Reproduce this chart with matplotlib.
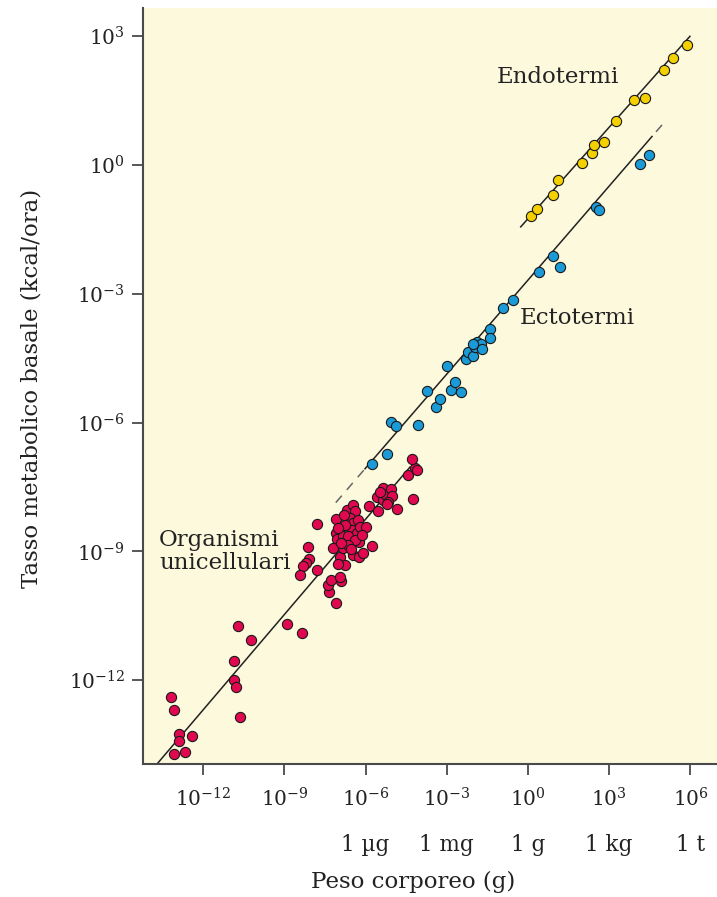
import numpy as np
import matplotlib
matplotlib.use('Agg')
import matplotlib.pyplot as plt

plt.rcParams['font.family'] = 'DejaVu Serif'
plt.rcParams['mathtext.fontset'] = 'dejavuserif'

# log10 of body weight (g) / log10 of basal metabolic rate (kcal/h)
endo_logw = [0.10, 0.34, 0.93, 1.10, 2.01, 2.36, 2.43, 2.81, 3.24, 3.92, 4.33, 5.04, 5.36, 5.87]
endo_logr = [-1.20, -1.03, -0.71, -0.35, 0.05, 0.27, 0.47, 0.53, 1.02, 1.51, 1.57, 2.20, 2.48, 2.79]

ecto_logw = [-5.77, -5.20, -5.05, -4.89, -4.07, -3.74, -3.40, -3.25, -3.00, -2.83,
             -2.69, -2.49, -2.29, -2.21, -2.02, -1.96, -1.87, -1.73, -1.69, -2.04,
             -1.40, -1.40, -0.93, -0.55, 0.42, 0.93, 1.18, 2.51, 2.63, 4.14, 4.47]
ecto_logr = [-6.96, -6.74, -5.98, -6.08, -6.06, -5.26, -5.63, -5.46, -4.69, -5.24,
             -5.05, -5.29, -4.51, -4.35, -4.45, -4.25, -4.12, -4.17, -4.29, -4.17,
             -3.81, -4.04, -3.34, -3.14, -2.49, -2.12, -2.38, -0.97, -1.04, 0.02, 0.23]

uni_logw = [-13.19, -13.07, -12.89, -12.89, -12.42, -13.09, -12.68, -10.72, -10.23, -10.86,
            -10.85, -10.79, -10.64, -8.91, -8.34, -7.11, -7.34, -7.37, -6.92, -7.28,
            -8.12, -8.08, -8.20, -8.30, -8.42, -7.81, -7.78, -7.09, -7.08, -7.04,
            -7.19, -6.94, -6.76, -7.03, -6.94, -6.85, -6.82, -6.68, -6.48, -6.39,
            -6.58, -6.45, -6.27, -6.51, -6.33, -6.21, -5.98, -6.64, -6.23, -6.45,
            -6.23, -6.08, -5.77, -5.86, -5.53, -5.57, -5.35, -5.37, -5.25, -5.07,
            -5.04, -5.16, -4.85, -4.24, -4.42, -4.17, -4.29, -4.09, -6.76, -6.39,
            -6.65, -6.13, -6.80, -7.00, -6.55, -6.90, -5.45, -5.20]
uni_logr = [-12.38, -12.70, -13.24, -13.42, -13.29, -13.71, -13.66, -10.73, -11.07, -11.55,
            -11.99, -12.15, -12.85, -10.68, -10.89, -10.21, -9.95, -9.78, -9.69, -9.66,
            -8.90, -9.17, -9.26, -9.35, -9.55, -9.43, -8.36, -8.24, -8.58, -8.71,
            -8.92, -9.12, -9.31, -9.29, -9.59, -8.92, -8.65, -8.03, -7.92, -8.07,
            -8.23, -8.34, -8.27, -8.50, -8.58, -8.42, -8.44, -8.65, -8.77, -9.08,
            -9.13, -9.03, -8.87, -7.94, -8.05, -7.74, -7.80, -7.53, -7.68, -7.55,
            -7.72, -7.84, -8.02, -7.77, -7.22, -7.06, -6.84, -7.10, -8.38, -8.73,
            -8.85, -8.61, -8.15, -8.45, -8.95, -8.80, -7.62, -7.90]

# regression lines: log rate = intercept + slope * log weight
endo_fit = (-1.25, 0.71)
ecto_fit = (-2.68, 0.73)
uni_fit = (-3.81, 0.74)
endo_range = (-0.27, 5.98)
ecto_range = (-6.02, 4.58)
ecto_dash_lo = (-7.10, -6.02)
ecto_dash_hi = (4.58, 5.10)
uni_range = (-14.0, -4.36)

x_ticks = [-12, -9, -6, -3, 0, 3, 6]
y_ticks = [-12, -9, -6, -3, 0, 3]
unit_pos = [-6, -3, 0, 3, 6]
unit_labels = ['1 µg', '1 mg', '1 g', '1 kg', '1 t']

bg = '#fdf9dd'
red = '#e0094f'
blue = '#1a9ad6'
yellow = '#f4d000'
spine_col = '#4a4a4a'


def fit_line(fit, rng, n=50):
    lw_ = np.linspace(rng[0], rng[1], n)
    return 10 ** lw_, 10 ** (fit[0] + fit[1] * lw_)


fig = plt.figure(figsize=(7.17, 8.97), dpi=100)
ax = fig.add_axes([143 / 717, 133 / 897, 574 / 717, 756 / 897])
ax.set_facecolor(bg)
ax.set_xscale('log')
ax.set_yscale('log')

# lines
x, y = fit_line(uni_fit, uni_range)
ax.plot(x, y, color='#222222', lw=1.1, zorder=2)
x, y = fit_line(ecto_fit, ecto_range)
ax.plot(x, y, color='#222222', lw=1.1, zorder=2)
x, y = fit_line(ecto_fit, ecto_dash_lo)
ax.plot(x, y, color='#666666', lw=1.1, ls=(0, (6, 5)), zorder=2)
x, y = fit_line(ecto_fit, ecto_dash_hi)
ax.plot(x, y, color='#666666', lw=1.1, ls=(7, (6, 5)), zorder=2)
x, y = fit_line(endo_fit, endo_range)
ax.plot(x, y, color='#222222', lw=1.1, zorder=2)

# points
kw = dict(s=54, edgecolors='#1a1a1a', linewidths=0.8, zorder=3)
ax.scatter(10 ** np.array(uni_logw), 10 ** np.array(uni_logr), color=red, **kw)
ax.scatter(10 ** np.array(ecto_logw), 10 ** np.array(ecto_logr), color=blue, **kw)
ax.scatter(10 ** np.array(endo_logw), 10 ** np.array(endo_logr), color=yellow, **kw)

ax.set_xlim(10 ** -14.22, 10 ** 6.98)
ax.set_ylim(10 ** -13.95, 10 ** 3.655)

ax.set_xticks([10.0 ** t for t in x_ticks])
ax.set_xticklabels([f'$10^{{{t}}}$' for t in x_ticks])
ax.set_yticks([10.0 ** t for t in y_ticks])
ax.set_yticklabels([f'$10^{{{t}}}$' for t in y_ticks])
ax.minorticks_off()
ax.tick_params(axis='both', direction='out', length=8, width=1.3, color=spine_col,
               labelsize=14.5, labelcolor='#222222')
ax.tick_params(axis='y', pad=5)
ax.tick_params(axis='x', pad=9)

for side in ['top', 'right']:
    ax.spines[side].set_visible(False)
for side in ['left', 'bottom']:
    ax.spines[side].set_color(spine_col)
    ax.spines[side].set_linewidth(1.5)

# weight units under the ticks
for p, lab in zip(unit_pos, unit_labels):
    ax.text(10.0 ** p, -0.107, lab, transform=ax.get_xaxis_transform(),
            ha='center', va='center', fontsize=15.5, color='#222222')

# group labels
ax.text(10 ** 1.11, 10 ** 2.05, 'Endotermi', ha='center', va='center', fontsize=16.5, color='#222222')
ax.text(10 ** 1.81, 10 ** -3.56, 'Ectotermi', ha='center', va='center', fontsize=16.5, color='#222222')
ax.text(10 ** -13.63, 10 ** -9.01, 'Organismi\nunicellulari', ha='left', va='center',
        fontsize=16.5, color='#222222', linespacing=1.05)

fig.text(413 / 717, 1 - 882 / 897, 'Peso corporeo (g)', ha='center', va='center',
         fontsize=16.5, color='#222222')
fig.text(32 / 717, 1 - 388 / 897, 'Tasso metabolico basale (kcal/ora)', rotation=90,
         ha='center', va='center', fontsize=16.5, color='#222222')

fig.savefig('out.png', dpi=100, facecolor='white')
